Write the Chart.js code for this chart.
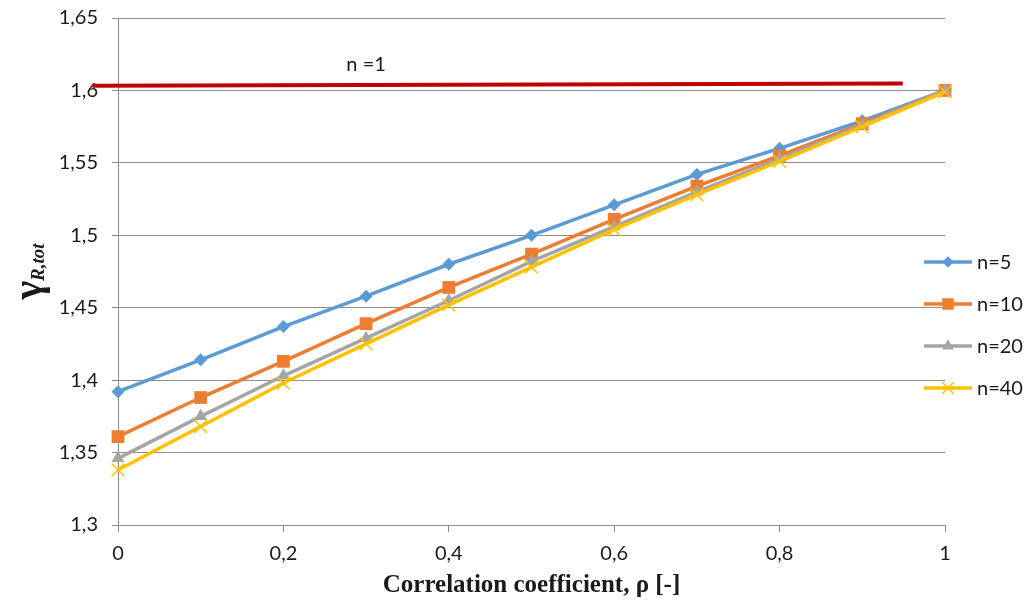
<!DOCTYPE html>
<html>
<head>
<meta charset="utf-8">
<title>gamma R,tot vs correlation coefficient</title>
<script src="https://cdn.jsdelivr.net/npm/chart.js@4/dist/chart.umd.min.js"></script>
<style>
  html, body { margin: 0; padding: 0; background: #fff; }
  #wrap { width: 1026px; height: 606px; }
</style>
</head>
<body>
<div id="wrap"><canvas id="chart" width="1026" height="606"></canvas></div>
<script>
// data
var rho = [0, 0.1, 0.2, 0.3, 0.4, 0.5, 0.6, 0.7, 0.8, 0.9, 1]
var n5  = [1.392, 1.414, 1.437, 1.458, 1.480, 1.500, 1.521, 1.542, 1.560, 1.579, 1.600]
var n10 = [1.361, 1.388, 1.413, 1.439, 1.464, 1.487, 1.511, 1.534, 1.555, 1.577, 1.600]
var n20 = [1.346, 1.375, 1.403, 1.429, 1.455, 1.482, 1.506, 1.530, 1.553, 1.576, 1.600]
var n40 = [1.338, 1.368, 1.398, 1.425, 1.452, 1.478, 1.504, 1.528, 1.551, 1.575, 1.599]
// n=1 reference line (starts a bit left of the axis, stops before rho=1)
var n1x = [-0.031, 0.949]
var n1y = [1.6032, 1.6048]

var xTickValues = [0, 0.2, 0.4, 0.6, 0.8, 1]
var xTickLabels = ['0', '0,2', '0,4', '0,6', '0,8', '1']
var yTickValues = [1.3, 1.35, 1.4, 1.45, 1.5, 1.55, 1.6, 1.65]
var yTickLabels = ['1,3', '1,35', '1,4', '1,45', '1,5', '1,55', '1,6', '1,65']

var seriesNames = ['n=5', 'n=10', 'n=20', 'n=40']
var seriesData = [n5, n10, n20, n40]
var colors = ['#5B9BD5', '#ED7D31', '#A5A5A5', '#FFC000']
var markers = ['rectRot', 'rect', 'triangle', 'crossRot']
var markerSizes = [6.5, 9, 7.5, 9]

var FONT = 'Lato, "Open Sans", sans-serif'
var GRID = '#8c8c8c'

function pts(xs, ys) {
    return xs.map(function (x, i) { return { x: x, y: ys[i] } })
}

function noPad(scale) {
    scale.paddingTop = 0
    scale.paddingBottom = 0
    scale.paddingLeft = 0
    scale.paddingRight = 0
}

var datasets = seriesData.map(function (vals, i) {
    return {
        label: seriesNames[i],
        data: pts(rho, vals),
        borderColor: colors[i],
        backgroundColor: colors[i],
        borderWidth: 3.5,
        pointStyle: markers[i],
        pointRadius: markerSizes[i],
        pointBorderWidth: markers[i] == 'crossRot' ? 1.5 : 0,
        pointBorderColor: colors[i],
        pointBackgroundColor: colors[i],
        tension: 0,
        clip: false,
        order: 4 - i
    }
})
datasets.push({
    label: 'n=1',
    data: pts(n1x, n1y),
    borderColor: '#C00000',
    borderWidth: 4,
    pointRadius: 0,
    clip: false,
    order: 10
})

// draws the legend, the axis titles and the "n =1" note
var extras = {
    id: 'extras',
    afterDraw: function (chart) {
        var ctx = chart.ctx
        var xs = chart.scales.x, ys = chart.scales.y
        var area = chart.chartArea
        ctx.save()

        // n =1 label
        ctx.fillStyle = '#1a1a1a'
        ctx.font = '20px ' + FONT
        ctx.textAlign = 'center'
        ctx.textBaseline = 'middle'
        ctx.fillText('n =1', xs.getPixelForValue(0.3), ys.getPixelForValue(1.6176))

        // legend
        var ly = [262, 304, 346, 388]
        ctx.textAlign = 'left'
        for (var i = 0; i < seriesNames.length; i++) {
            ctx.strokeStyle = colors[i]
            ctx.lineWidth = 3.5
            ctx.beginPath()
            ctx.moveTo(924, ly[i])
            ctx.lineTo(972, ly[i])
            ctx.stroke()
            ctx.fillStyle = colors[i]
            ctx.lineWidth = 1.5
            Chart.helpers.drawPoint(ctx, {
                pointStyle: markers[i],
                radius: markerSizes[i] * 0.9,
                rotation: 0,
                borderWidth: markers[i] == 'crossRot' ? 1.5 : 0
            }, 948, ly[i])
            ctx.fillStyle = '#1a1a1a'
            ctx.fillText(seriesNames[i], 977, ly[i] + 1)
        }

        // x axis title
        ctx.font = 'bold 25px "Liberation Serif", "Times New Roman", serif'
        ctx.textAlign = 'center'
        ctx.textBaseline = 'alphabetic'
        ctx.fillText('Correlation coefficient, \u03c1 [-]', (area.left + area.right) / 2, 592)

        // y axis title: gamma with subscript R,tot
        var cy = (area.top + area.bottom) / 2
        ctx.translate(41, cy)
        ctx.rotate(-Math.PI / 2)
        var gFont = 'bold 40px "Liberation Serif", "Times New Roman", serif'
        var sFont = 'bold italic 19px "Liberation Serif", "Times New Roman", serif'
        ctx.font = gFont
        var gw = ctx.measureText('\u03b3').width
        ctx.font = sFont
        var sw = ctx.measureText('R,tot').width
        var x0 = -(gw + sw) / 2
        ctx.textAlign = 'left'
        ctx.font = gFont
        ctx.fillText('\u03b3', x0, 0)
        ctx.font = sFont
        ctx.fillText('R,tot', x0 + gw, 3)

        ctx.restore()
    }
}

var ctx = document.getElementById('chart')
var myChart = new Chart(ctx, {
    type: 'line',
    data: { datasets: datasets },
    options: {
        responsive: false,
        animation: false,
        layout: { padding: { top: 18, right: 81, left: 0, bottom: 0 } },
        plugins: {
            legend: { display: false },
            tooltip: { enabled: false }
        },
        scales: {
            x: {
                type: 'linear',
                min: 0,
                max: 1,
                afterBuildTicks: function (scale) {
                    scale.ticks = xTickValues.map(function (v) { return { value: v } })
                },
                afterFit: function (scale) { scale.height = 81; noPad(scale) },
                ticks: {
                    color: '#1a1a1a',
                    font: { family: FONT, size: 20 },
                    padding: 10,
                    maxRotation: 0,
                    callback: function (v, i) { return xTickLabels[i] }
                },
                grid: {
                    drawOnChartArea: false,
                    drawTicks: true,
                    tickLength: 7,
                    color: GRID
                },
                border: { color: GRID, width: 1 }
            },
            y: {
                min: 1.3,
                max: 1.65,
                afterBuildTicks: function (scale) {
                    scale.ticks = yTickValues.map(function (v) { return { value: v } })
                },
                afterFit: function (scale) { scale.width = 118; noPad(scale) },
                ticks: {
                    color: '#1a1a1a',
                    font: { family: FONT, size: 20 },
                    padding: 14,
                    callback: function (v, i) { return yTickLabels[i] }
                },
                grid: {
                    color: GRID,
                    tickLength: 6,
                    lineWidth: 1
                },
                border: { color: GRID, width: 1 }
            }
        }
    },
    plugins: [extras]
})
</script>
</body>
</html>
